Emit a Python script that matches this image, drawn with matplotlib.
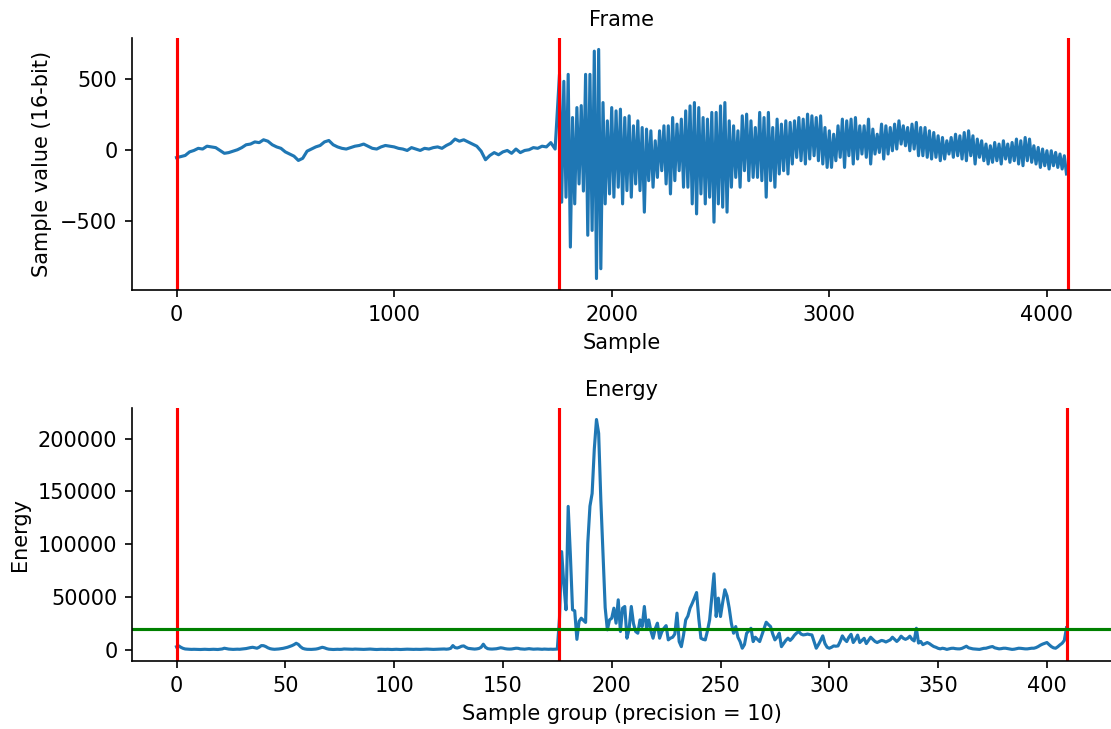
import numpy as np
import matplotlib
matplotlib.use("Agg")
from matplotlib import pyplot as plt

# Quiet part of the frame: one value every 20 samples, from sample 0 to 1740
quiet_step = 20
quiet_frame = [
    -55, -48, -40, -15, -5, 10, 5, 25, 20, 15,
    -5, -25, -20, -10, 0, 15, 35, 40, 55, 50,
    70, 60, 35, 20, 10, -15, -30, -45, -75, -60,
    -10, 5, 20, 30, 55, 65, 35, 20, 10, 5,
    15, 25, 30, 40, 25, 10, 5, 20, 30, 25,
    20, 10, 5, -5, 15, 5, -5, 10, 5, 15,
    20, 10, 30, 45, 75, 60, 70, 55, 40, 25,
    -10, -70, -40, -20, -35, -15, -5, -25, 5, -20,
    -5, 0, 15, 10, 25, 20, 50, 5,
]

# Loud part: peaks at 1760 + 20k, troughs at 1770 + 20k
loud_start = 1760
loud_peaks = [
    529, 480, 529, 226, 296, 310, 529, 529, 692, 704,
    331, 203, 296, 273, 285, 226, 238, 168, 203, 156,
    145, 133, 63, 133, 168, 168, 226, 180, 215, 273,
    308, 331, 296, 226, 215, 262, 262, 308, 331, 203,
    168, 133, 238, 250, 203, 156, 262, 226, 262, 156,
    215, 180, 203, 192, 203, 226, 215, 250, 238, 226,
    238, 156, 133, 109, 168, 215, 203, 215, 226, 168,
    168, 215, 145, 109, 180, 168, 156, 180, 203, 168,
    156, 180, 192, 156, 156, 133, 121, 98, 86, 63,
    86, 109, 98, 121, 133, 98, 75, 63, 40, 28,
    51, 40, 63, 40, 51, 75, 63, 86, 75, 28,
    16, 5, -7, -7, -19, -30, -42,
]
loud_troughs = [
    -368, -333, -683, -380, -240, -290, -600, -566, -904, -835,
    -380, -310, -333, -263, -380, -287, -333, -240, -287, -438,
    -217, -263, -194, -147, -240, -310, -217, -147, -263, -263,
    -380, -450, -310, -380, -333, -508, -380, -403, -438, -263,
    -194, -263, -147, -217, -194, -194, -217, -333, -217, -263,
    -170, -147, -170, -100, -54, -77, -100, -65, -42, -77,
    -100, -124, -124, -77, -53, -124, -42, -100, -65, -30,
    -53, -100, -30, -19, -65, -30, -7, 5, 40, 28,
    -7, 5, -42, -42, -53, -65, -53, -77, -65, -30,
    -53, -42, -65, -77, -42, -100, -53, -77, -100, -88,
    -77, -100, -65, -88, -77, -100, -112, -77, -88, -100,
    -124, -112, -135, -112, -124, -135, -170,
]
frame_len = 4096
speech_start = 1760

# Energy per group of 10 samples
energy = [
    3000, 3800, 2500, 1500, 900, 700, 600, 500, 600, 500,
    500, 400, 500, 600, 500, 400, 500, 600, 500, 400,
    600, 900, 1600, 1200, 800, 600, 500, 600, 700, 600,
    800, 1000, 1300, 1800, 2200, 2500, 2000, 1600, 2600, 4100,
    4000, 3200, 2000, 1200, 800, 600, 700, 900, 1200, 1500,
    2000, 2500, 3200, 4000, 5000, 6300, 5200, 3000, 1500, 900,
    600, 500, 500, 600, 800, 1200, 1800, 2500, 2000, 1200,
    700, 500, 400, 500, 600, 500, 600, 900, 800, 600,
    500, 600, 800, 700, 600, 500, 500, 600, 700, 800,
    600, 500, 400, 500, 600, 500, 500, 600, 500, 400,
    500, 600, 500, 400, 500, 600, 700, 600, 500, 500,
    600, 500, 500, 600, 700, 800, 700, 600, 500, 600,
    700, 800, 1000, 900, 700, 900, 1500, 4100, 2200, 1800,
    2500, 3500, 3800, 2500, 1500, 1200, 1000, 800, 1000, 1400,
    2500, 5400, 2500, 1200, 900, 800, 900, 1100, 1600, 2000,
    1700, 1200, 900, 800, 900, 1200, 1600, 1500, 1000, 800,
    700, 900, 1200, 900, 700, 800, 900, 700, 600, 800,
    700, 600, 700, 600, 700, 800, 30000, 93000, 62000, 38000,
    135800, 90000, 38000, 37000, 10000, 27000, 30000, 28000, 26000, 101000,
    136000, 148000, 190000, 218000, 205000, 142000, 90000, 40000, 19000, 28400,
    30000, 39500, 25300, 47400, 17400, 39500, 41100, 11100, 20000, 41100,
    25000, 17400, 15800, 28400, 22100, 41100, 20500, 28400, 18000, 11100,
    20000, 25300, 11100, 17000, 20500, 23000, 9500, 11100, 12000, 15000,
    34800, 7900, 3100, 14000, 28400, 32000, 39500, 44000, 49000, 54300,
    30000, 11100, 10000, 9500, 18000, 28400, 50000, 72000, 31600, 49000,
    31600, 45000, 56900, 51000, 39500, 25000, 15800, 22100, 12000, 7900,
    1600, 5000, 15800, 18000, 20500, 7900, 12000, 10000, 7900, 14000,
    20000, 26200, 24000, 22100, 15000, 9500, 12000, 15800, 3100, 6000,
    9000, 11100, 9000, 11100, 14000, 16000, 17400, 15000, 14200, 14500,
    15000, 14500, 14200, 8000, 1600, 5000, 9000, 13300, 6000, 2500,
    1600, 2500, 3800, 3500, 3800, 8000, 13300, 10000, 7900, 12000,
    14800, 7000, 10000, 14000, 7000, 9000, 11000, 6000, 9000, 12000,
    10000, 8000, 7000, 8000, 9000, 8500, 7500, 8500, 9500, 12000,
    10000, 8000, 10000, 13000, 11000, 10000, 11000, 13000, 10000, 8500,
    20500, 6500, 8000, 5000, 6000, 7000, 6000, 4500, 3200, 2500,
    1500, 1000, 1600, 1200, 500, 1000, 1500, 1600, 1200, 1000,
    1000, 1500, 2500, 3500, 2000, 1500, 1000, 800, 600, 500,
    1000, 1500, 1600, 2200, 2800, 3200, 2000, 1500, 1000, 1200,
    1600, 1600, 1200, 800, 500, 700, 1200, 1600, 1500, 1200,
    1000, 1000, 1300, 1600, 1600, 2200, 3200, 4500, 5500, 6300,
    7000, 5000, 3200, 2000, 1600, 3000, 4800, 6300, 9000, 21000,
]
precision = 10
threshold = 20000

# x positions (sample index) for the frame line
quiet_x = np.arange(len(quiet_frame)) * quiet_step
loud_y = np.empty(2 * len(loud_peaks))
loud_y[0::2] = loud_peaks
loud_y[1::2] = loud_troughs
loud_x = loud_start + np.arange(len(loud_y)) * 10
frame_x = np.concatenate([quiet_x, loud_x])
frame_y = np.concatenate([quiet_frame, loud_y])

dpi = 150
fig = plt.figure(figsize=(1111 / dpi, 729 / dpi), dpi=dpi)
ax1 = fig.add_axes([132 / 1111, 1 - 290 / 729, 1 - 132 / 1111, 252 / 729])
ax2 = fig.add_axes([132 / 1111, 1 - 661 / 729, 1 - 132 / 1111, 253 / 729])

# フレーム
ax1.plot(frame_x, frame_y, color='#1f77b4')
for x in [0, speech_start, frame_len - 1]:
    ax1.axvline(x, color='red')
ax1.set_title("Frame", fontsize=10)
ax1.set_xlabel("Sample")
ax1.set_ylabel("Sample value (16-bit)")
ax1.set_xticks(range(0, 4001, 1000))

# エネルギー
ax2.plot(np.arange(len(energy)), energy, color='#1f77b4')
for x in [0, speech_start // precision, len(energy) - 1]:
    ax2.axvline(x, color='red')
ax2.axhline(threshold, color='green')
ax2.set_title("Energy", fontsize=10)
ax2.set_xlabel(f"Sample group (precision = {precision})")
ax2.set_ylabel("Energy")
ax2.set_xticks(range(0, 401, 50))

for ax in (ax1, ax2):
    ax.spines['top'].set_visible(False)
    ax.spines['right'].set_visible(False)

fig.savefig("out.png", dpi=dpi)
plt.close(fig)
